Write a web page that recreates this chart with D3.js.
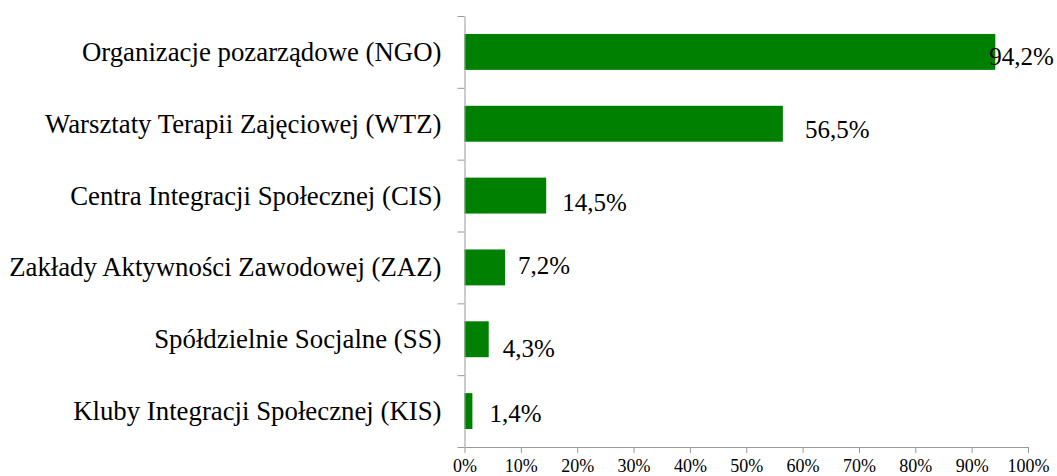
<!DOCTYPE html>
<html lang="pl">
<head>
<meta charset="utf-8">
<title>Podmioty ekonomii społecznej</title>
<script src="https://cdn.jsdelivr.net/npm/d3@7/dist/d3.min.js"></script>
<style>
  html, body { margin: 0; padding: 0; background: #fff; }
  svg { display: block; }
  text { font-family: "Liberation Serif", "Times New Roman", serif; fill: #000; }
</style>
</head>
<body>
<svg id="chart" width="1057" height="476"></svg>
<script>
// Categories, top to bottom
const categories = [
  "Organizacje pozarządowe (NGO)",
  "Warsztaty Terapii Zajęciowej (WTZ)",
  "Centra Integracji Społecznej (CIS)",
  "Zakłady Aktywności Zawodowej (ZAZ)",
  "Spółdzielnie Socjalne (SS)",
  "Kluby Integracji Społecznej (KIS)"
];

// Share of respondents, percent
const values = [94.2, 56.5, 14.5, 7.2, 4.3, 1.4];

// Axis tick values, percent
const xTicks = [0, 10, 20, 30, 40, 50, 60, 70, 80, 90, 100];

// Hand-placed data label offsets from the bar end / bar centre, px
const labelDx = [-6, 22, 16, 13, 14, 17];
const labelDy = [13, 14, 15, 7, 18, 11];

const svg = d3.select("#chart");
const axisColor = "#9a9a9a";
const barColor = "#008000";

const plot = { left: 464.5, right: 1028, top: 16, bottom: 447 };

const x = d3.scaleLinear().domain([0, 100]).range([plot.left, plot.right]);
const y = d3.scaleBand()
  .domain(categories)
  .range([plot.top, plot.bottom])
  .paddingInner(0.5)
  .paddingOuter(0.25);

const pl = d3.formatLocale({ decimal: ",", thousands: " ", grouping: [3], currency: ["", " zł"] });
const fmt = v => pl.format(".1f")(v) + "%";

// Bars
svg.append("g")
  .selectAll("rect")
  .data(values)
  .join("rect")
  .attr("x", x(0))
  .attr("y", (d, i) => y(categories[i]))
  .attr("width", d => x(d) - x(0))
  .attr("height", y.bandwidth())
  .attr("fill", barColor);

// X axis
const xAxis = svg.append("g")
  .attr("transform", `translate(0,${plot.bottom})`)
  .call(d3.axisBottom(x).tickValues(xTicks).tickFormat(d => d + "%").tickSize(6).tickSizeOuter(0).tickPadding(5));
xAxis.select(".domain").attr("stroke", axisColor);
xAxis.selectAll(".tick line").attr("stroke", axisColor);
xAxis.selectAll(".tick text")
  .attr("font-family", "Liberation Serif, serif")
  .attr("font-size", 18)
  .attr("dy", "0.75em")
  .attr("fill", "#000");

// Y axis: ticks sit on the band boundaries
const yEdges = d3.scaleLinear().domain([0, categories.length]).range([plot.top, plot.bottom]);
const yAxis = svg.append("g")
  .attr("transform", `translate(${plot.left},0)`)
  .call(d3.axisLeft(yEdges).tickValues(d3.range(categories.length + 1)).tickFormat("").tickSize(7).tickSizeOuter(0));
yAxis.select(".domain").attr("stroke", axisColor);
yAxis.selectAll(".tick line").attr("stroke", axisColor);

// Category labels
svg.append("g")
  .selectAll("text")
  .data(categories)
  .join("text")
  .attr("x", plot.left - 23)
  .attr("y", d => y(d) + y.bandwidth() / 2 + 9)
  .attr("text-anchor", "end")
  .attr("font-size", 26.8)
  .text(d => d);

// Data labels
svg.append("g")
  .selectAll("text")
  .data(values)
  .join("text")
  .attr("x", (d, i) => x(d) + labelDx[i])
  .attr("y", (d, i) => y(categories[i]) + y.bandwidth() / 2 + labelDy[i])
  .attr("text-anchor", "start")
  .attr("font-size", 25)
  .text(d => fmt(d));
</script>
</body>
</html>
